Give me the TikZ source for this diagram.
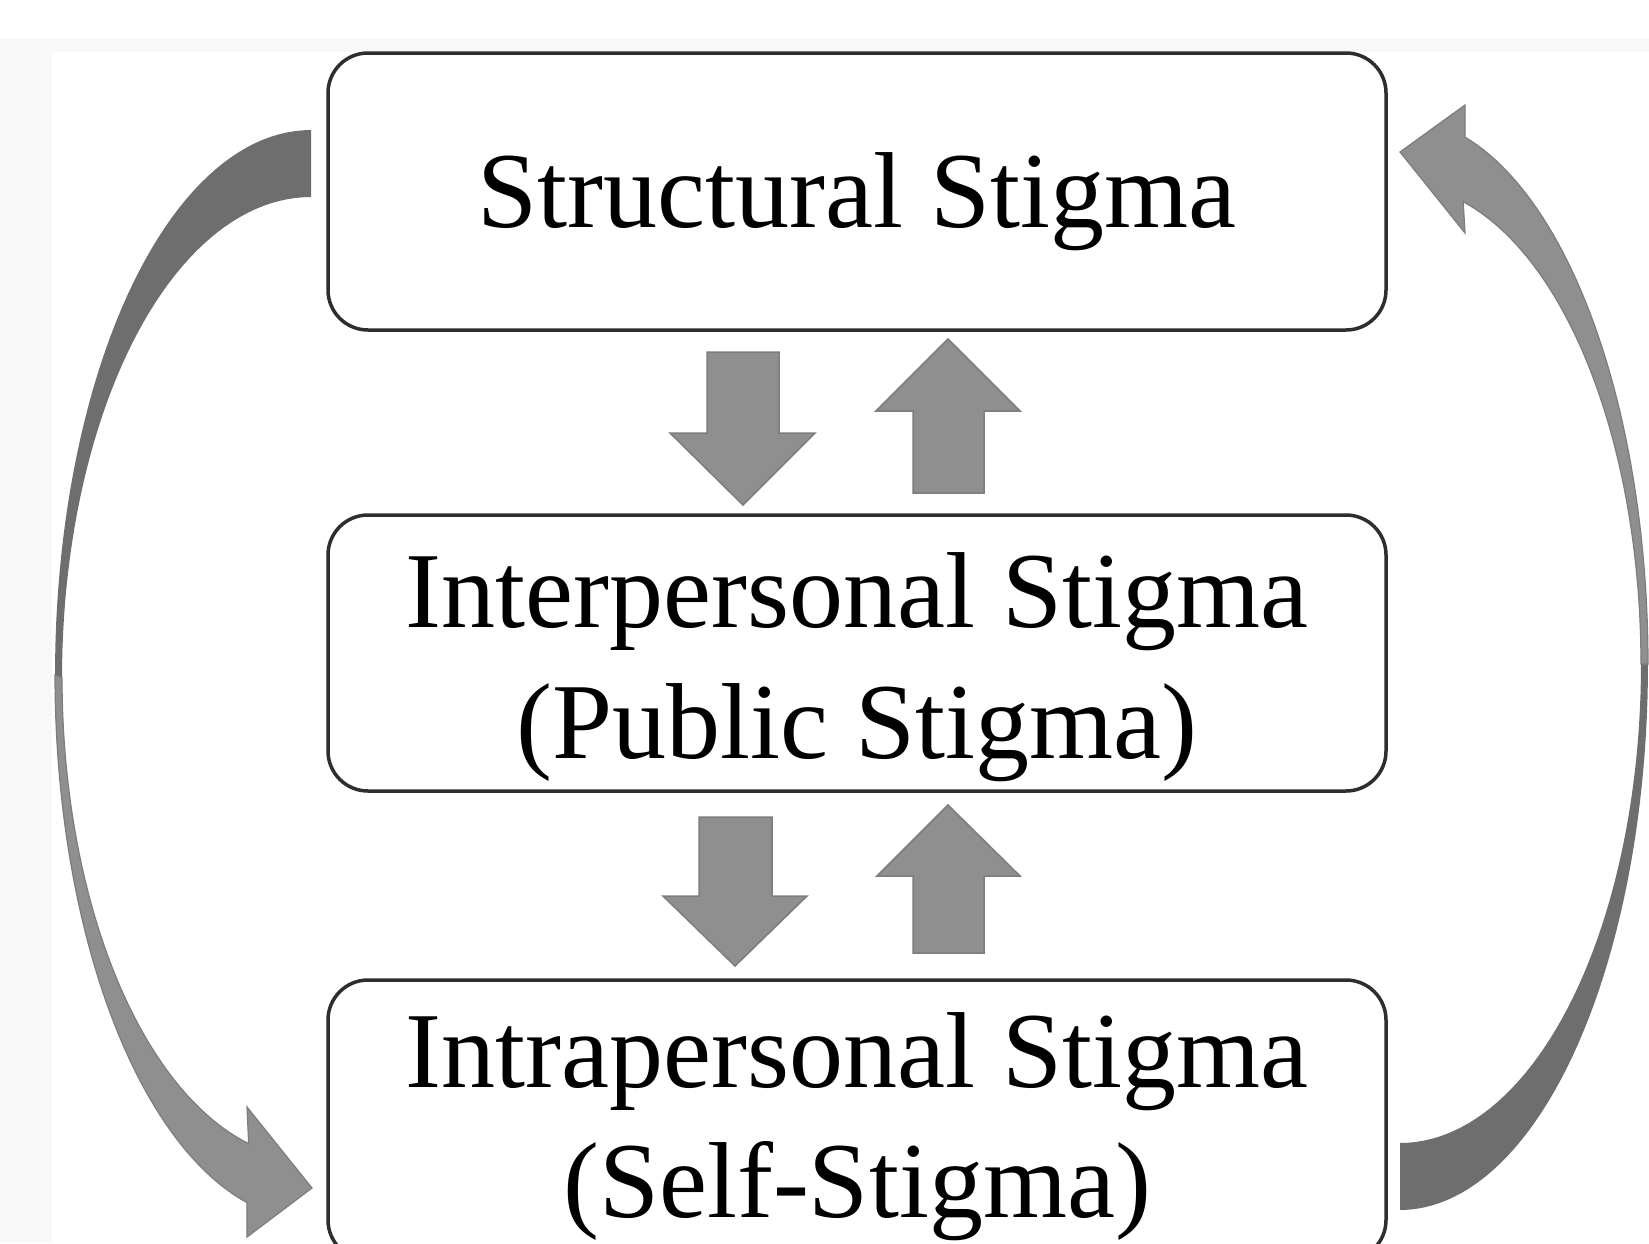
\documentclass[tikz,border=0pt]{standalone}
\usepackage{fontspec}
\setmainfont{Liberation Serif}
\definecolor{bandgray}{HTML}{F8F8F8}
\definecolor{boxline}{HTML}{2E2E2E}
\definecolor{darkarrow}{HTML}{6E6E6E}
\definecolor{lightarrow}{HTML}{8F8F8F}
\definecolor{arrowline}{HTML}{7D7D7D}
\begin{document}
\begin{tikzpicture}[x=1pt,y=-1pt,
  stigmabox/.style={draw=boxline, line width=3.5pt, rounded corners=40pt, fill=white, inner sep=0pt},
  lbl/.style={inner sep=0pt, anchor=base, font=\fontsize{108}{130}\selectfont},
  blockarrow/.style={fill=lightarrow, draw=arrowline, line width=1.5pt, line join=miter},
  darkpart/.style={fill=darkarrow},
  lightpart/.style={fill=lightarrow, draw=arrowline, line width=1.2pt}]
\useasboundingbox (0,0) rectangle (1649,1243);
\clip (0,0) rectangle (1649,1243);
% background
\fill[white] (0,0) rectangle (1649,1243);
\fill[bandgray] (0,38) rectangle (1649,1243);
\fill[white] (52,52) rectangle (1649,1243);

% boxes
\node[stigmabox, minimum width=1058pt, minimum height=277pt] (s) at (857,191.5) {};
\node[stigmabox, minimum width=1058pt, minimum height=276pt] (p) at (857,653) {};
\node[stigmabox, minimum width=1058pt, minimum height=280pt] (i) at (857,1120) {};

% texts
\node[lbl] (st) at (857,227) {Structural Stigma};
\node[lbl] (pt1) at (857,627) {Interpersonal Stigma};
\node[lbl] (pt2) at (857,758) {(Public Stigma)};
\node[lbl] (it1) at (857,1087) {Intrapersonal Stigma};
\node[lbl] (it2) at (857,1217) {(Self-Stigma)};

% block arrows between Structural and Interpersonal
\draw[blockarrow] (707,352) -- (779,352) -- (779,433) -- (815,433) -- (743,505) -- (670,433) -- (707,433) -- cycle;
\draw[blockarrow] (913,493) -- (984,493) -- (984,411) -- (1020,411) -- (948,339) -- (876,411) -- (913,411) -- cycle;
% block arrows between Interpersonal and Intrapersonal
\draw[blockarrow] (699,817) -- (772,817) -- (772,896) -- (807,896) -- (735,966) -- (663,896) -- (699,896) -- cycle;
\draw[blockarrow] (913,953) -- (984,953) -- (984,876) -- (1020,876) -- (948,805) -- (877,876) -- (913,876) -- cycle;

% left curved arrow: Structural -> Intrapersonal
\fill[darkpart] plot[domain=180:270,samples=50] ({311+256*cos(\x)},{675+545*sin(\x)})
  -- plot[domain=-270:-180,samples=50] ({311+249*cos(\x)},{678-481*sin(\x)}) -- cycle;
\draw[lightpart] plot[domain=104.5:180,samples=50] ({311+256*cos(\x)},{675+545*sin(\x)})
  -- plot[domain=-180:-104.5,samples=50] ({311+249*cos(\x)},{678-481*sin(\x)})
  -- (247,1107) -- (312,1188) -- (247,1237) -- cycle;

% right curved arrow: Intrapersonal -> Structural
\fill[darkpart] plot[domain=0:90,samples=50] ({1400+248*cos(\x)},{664+546*sin(\x)})
  -- plot[domain=-90:0,samples=50] ({1400+241*cos(\x)},{664-479*sin(\x)}) -- cycle;
\draw[lightpart] plot[domain=-74.8:0,samples=50] ({1400+248*cos(\x)},{664+546*sin(\x)})
  -- plot[domain=0:74.8,samples=50] ({1400+241*cos(\x)},{664-479*sin(\x)})
  -- (1465,233) -- (1400,152) -- (1465,105) -- cycle;
\end{tikzpicture}
\end{document}
